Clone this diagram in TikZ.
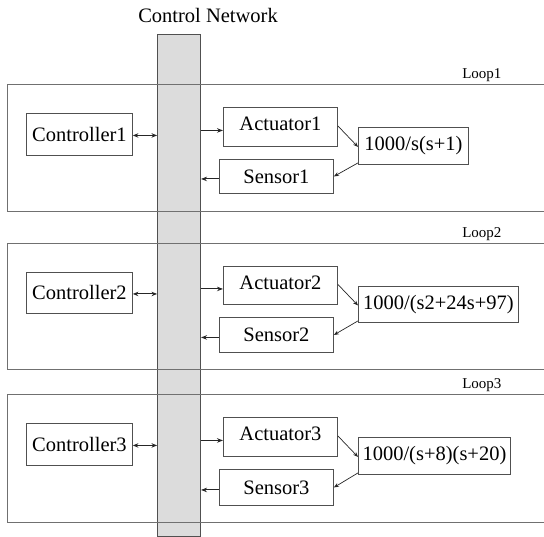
\documentclass[tikz,border=0pt]{standalone}
\usepackage{fontspec}
\setmainfont{LiberationSerif}[Extension=.ttf,UprightFont=*-Regular,BoldFont=*-Bold,ItalicFont=*-Italic]
\usetikzlibrary{arrows.meta}
\definecolor{barfill}{HTML}{DCDCDC}
\definecolor{edge}{HTML}{505050}
\definecolor{loopline}{HTML}{707070}
\begin{document}
\begin{tikzpicture}[x=1pt,y=-1pt,
  blk/.style={draw=edge,line width=0.9pt,fill=white,inner sep=0pt,font=\fontsize{20.5}{22}\selectfont,anchor=north west},
  arr/.style={-{Stealth[length=6pt,width=4.5pt]},line width=1pt,draw=black!85},
  arrs/.style={-{Stealth[length=5pt,width=4pt]},line width=0.7pt,draw=black!85},
  darr/.style={{Stealth[length=5.5pt,width=4.5pt]}-{Stealth[length=5.5pt,width=4.5pt]},line width=1pt,draw=black!85},
  looplbl/.style={font=\fontsize{15}{17}\selectfont,anchor=base east},
  loopedge/.style={draw=loopline,line width=0.9pt}]
\useasboundingbox (0,0) rectangle (544,537);
% network bar
\node[draw=edge,fill=barfill,line width=1pt,minimum width=43pt,minimum height=502pt,anchor=north west,inner sep=0pt] (bar) at (157,34) {};
\node[font=\fontsize{20.5}{22}\selectfont] (title) at (208,15) {Control Network};
% loop frames
\draw[loopedge] (544,84) -- (7,84) -- (7,211) -- (544,211);
\draw[loopedge] (544,243) -- (7,243) -- (7,369) -- (544,369);
\draw[loopedge] (544,394) -- (7,394) -- (7,522) -- (544,522);
\node[looplbl] (l1) at (505,79) {Loop1};
\node[looplbl] (l2) at (505,238) {Loop2};
\node[looplbl] (l3) at (505,389) {Loop3};
% loop 1
\node[blk,minimum width=106pt,minimum height=42pt] (c1) at (26,113) {Controller1};
\node[blk,minimum width=114pt,minimum height=39pt] (a1) at (223,107) {\raisebox{6pt}{Actuator1}};
\node[blk,minimum width=110pt,minimum height=37pt] (p1) at (358,127) {\raisebox{-3pt}{1000/s(s+1)}};
\node[blk,minimum width=114pt,minimum height=34pt] (s1) at (219,159) {\raisebox{-2pt}{Sensor1}};
% loop 2
\node[blk,minimum width=106pt,minimum height=41pt] (c2) at (26,272) {Controller2};
\node[blk,minimum width=114pt,minimum height=38pt] (a2) at (223,266) {\raisebox{6pt}{Actuator2}};
\node[blk,minimum width=160pt,minimum height=36pt] (p2) at (358,286) {\raisebox{-3pt}{1000/(s2+24s+97)}};
\node[blk,minimum width=114pt,minimum height=35pt] (s2) at (219,317) {\raisebox{-2pt}{Sensor2}};
% loop 3
\node[blk,minimum width=106pt,minimum height=42pt] (c3) at (26,423) {Controller3};
\node[blk,minimum width=114pt,minimum height=39pt] (a3) at (223,417) {\raisebox{6pt}{Actuator3}};
\node[blk,minimum width=152pt,minimum height=37pt] (p3) at (358,437) {\raisebox{-3pt}{1000/(s+8)(s+20)}};
\node[blk,minimum width=114pt,minimum height=36pt] (s3) at (219,469) {\raisebox{-2pt}{Sensor3}};
% connectors
\foreach \i in {1,2,3}{
  \draw[darr] ([yshift=-1pt]c\i.east) -- ([yshift=-1pt]c\i.east -| bar.west);
  \draw[arr] ([yshift=-3.5pt]a\i.west -| bar.east) -- ([yshift=-3.5pt]a\i.west);
  \draw[arr] ([yshift=-2.5pt]s\i.west) -- ([yshift=-2.5pt]s\i.west -| bar.east);
  \draw[arrs] ([yshift=1pt]a\i.east) -- ([yshift=-1pt]p\i.west);
  \draw[arrs] ([yshift=2pt]p\i.south west) -- (s\i.east);
}
\end{tikzpicture}
\end{document}
